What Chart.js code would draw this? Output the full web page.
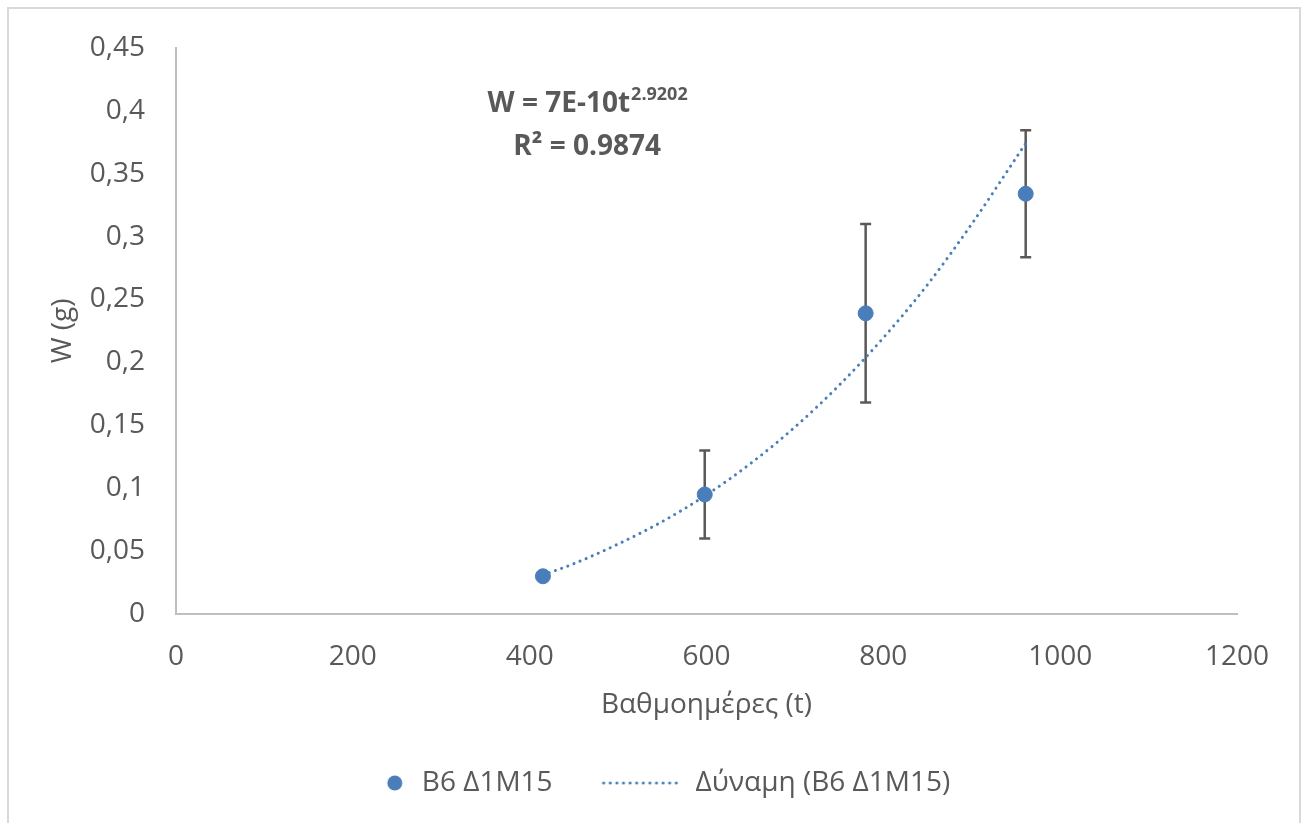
<!DOCTYPE html>
<html>
<head>
<meta charset="utf-8">
<script src="https://cdn.jsdelivr.net/npm/chart.js@4.4.1/dist/chart.umd.min.js"></script>
<style>
html,body{margin:0;padding:0;background:#ffffff;}
#wrap{width:1309px;height:823px;position:relative;}
</style>
</head>
<body>
<div id="wrap"><canvas id="c" width="1309" height="823"></canvas></div>
<script>
// ---- data ----
const seriesLabel = 'B6 Δ1M15';
const trendLabel = 'Δύναμη (B6 Δ1M15)';
const xTitle = 'Βαθμοημέρες (t)';
const yTitle = 'W (g)';
const tValues = [415, 598, 780, 961];
const wValues = [0.030, 0.095, 0.239, 0.334];
const wErrors = [0, 0.035, 0.071, 0.0505];
const trendT = [415, 450, 500, 550, 600, 650, 700, 750, 800, 850, 900, 961];
const trendW = [0.031, 0.040, 0.0556, 0.0735, 0.0947, 0.1197, 0.1486, 0.1818, 0.2195, 0.2618, 0.310, 0.374];
const xTickValues = [0, 200, 400, 600, 800, 1000, 1200];
const yTickValues = [0, 0.05, 0.1, 0.15, 0.2, 0.25, 0.3, 0.35, 0.4, 0.45];
const equationMain = 'W = 7E-10t';
const equationExp = '2.9202';
const equationR2 = 'R² = 0.9874';
const equationAnchor = [465, 0.405];   // data coords of the label centre
const r2Anchor = [465, 0.371];

// ---- styles ----
const FONT = '"Open Sans", "Noto Sans", sans-serif';
const FS = 28;
const TXT = '#595959';
const BLUE = '#4A7EBB';
const AXIS = '#BFBFBF';

function fmt(v){ return (Math.round(v*100)/100).toString().replace('.', ','); }

// legend glyph images
function circleImg(){
  const c = document.createElement('canvas'); c.width = 105; c.height = 18;
  const g = c.getContext('2d'); g.fillStyle = BLUE;
  g.beginPath(); g.arc(96, 9, 7.5, 0, Math.PI*2); g.fill();
  return c;
}
function dottedImg(){
  const c = document.createElement('canvas'); c.width = 119; c.height = 8;
  const g = c.getContext('2d'); g.strokeStyle = BLUE; g.lineWidth = 3; g.lineCap = 'round';
  g.setLineDash([0.1, 6.5]); g.beginPath(); g.moveTo(38, 4); g.lineTo(117, 4); g.stroke();
  return c;
}

const framePlugin = {
  id: 'frame',
  beforeDraw(chart){
    const ctx = chart.ctx; ctx.save();
    ctx.fillStyle = '#ffffff'; ctx.fillRect(0, 0, chart.width, chart.height);
    ctx.strokeStyle = '#D9D9D9'; ctx.lineWidth = 2;
    ctx.strokeRect(8, 8, 1292, 830);
    ctx.restore();
  }
};

const errorBarPlugin = {
  id: 'errorBars',
  beforeDatasetsDraw(chart){
    const ctx = chart.ctx, xs = chart.scales.x, ys = chart.scales.y;
    ctx.save(); ctx.strokeStyle = '#595959'; ctx.lineWidth = 2.5;
    tValues.forEach((t, i) => {
      const e = wErrors[i]; if (!e) return;
      const px = xs.getPixelForValue(t);
      const top = ys.getPixelForValue(wValues[i] + e);
      const bot = ys.getPixelForValue(wValues[i] - e);
      ctx.beginPath();
      ctx.moveTo(px, top); ctx.lineTo(px, bot);
      ctx.moveTo(px - 5.5, top); ctx.lineTo(px + 5.5, top);
      ctx.moveTo(px - 5.5, bot); ctx.lineTo(px + 5.5, bot);
      ctx.stroke();
    });
    ctx.restore();
  }
};

const equationPlugin = {
  id: 'equation',
  afterDraw(chart){
    const ctx = chart.ctx, xs = chart.scales.x, ys = chart.scales.y;
    ctx.save(); ctx.fillStyle = TXT; ctx.textBaseline = 'middle';
    const big = 'bold 28px ' + FONT, small = 'bold 18px ' + FONT;
    ctx.font = big; const w1 = ctx.measureText(equationMain).width;
    ctx.font = small; const w2 = ctx.measureText(equationExp).width;
    const cx = xs.getPixelForValue(equationAnchor[0]);
    const cy = ys.getPixelForValue(equationAnchor[1]);
    let x = cx - (w1 + w2)/2;
    ctx.textAlign = 'left';
    ctx.font = big; ctx.fillText(equationMain, x, cy);
    ctx.font = small; ctx.fillText(equationExp, x + w1 + 1, cy - 10);
    ctx.font = big; ctx.textAlign = 'center';
    ctx.fillText(equationR2, xs.getPixelForValue(r2Anchor[0]), ys.getPixelForValue(r2Anchor[1]));
    ctx.restore();
  }
};

const cImg = circleImg(), dImg = dottedImg();

new Chart(document.getElementById('c'), {
  type: 'scatter',
  data: {
    datasets: [
      {
        label: seriesLabel,
        data: tValues.map((t, i) => ({x: t, y: wValues[i]})),
        backgroundColor: BLUE, borderColor: BLUE,
        pointRadius: 7.5, pointHoverRadius: 7.5, showLine: false
      },
      {
        type: 'line',
        label: trendLabel,
        data: trendT.map((t, i) => ({x: t, y: trendW[i]})),
        borderColor: BLUE, borderWidth: 3, borderDash: [0.1, 6.5], borderCapStyle: 'round',
        pointRadius: 0, fill: false, cubicInterpolationMode: 'monotone'
      }
    ]
  },
  options: {
    responsive: false, animation: false,
    layout: { padding: { top: 43, left: 8, right: 72, bottom: 16 } },
    plugins: {
      tooltip: { enabled: false },
      legend: {
        position: 'bottom',
        labels: {
          usePointStyle: true, pointStyleWidth: 113, padding: 16,
          font: { family: FONT, size: FS }, color: TXT,
          generateLabels(chart){
            return [
              { text: seriesLabel, fontColor: TXT, pointStyle: cImg, datasetIndex: 0, hidden: false, lineWidth: 0, fillStyle: BLUE, strokeStyle: BLUE },
              { text: trendLabel, fontColor: TXT, pointStyle: dImg, datasetIndex: 1, hidden: false, lineWidth: 0, fillStyle: BLUE, strokeStyle: BLUE }
            ];
          }
        }
      }
    },
    scales: {
      x: {
        type: 'linear', min: 0, max: 1200,
        afterBuildTicks(s){ s.ticks = xTickValues.map(v => ({value: v})); },
        afterFit(s){ s.height = 139; },
        grid: { display: false, drawTicks: false },
        border: { display: true, color: AXIS, width: 2 },
        ticks: { padding: 26, color: TXT, font: { family: FONT, size: FS }, maxRotation: 0, callback: v => fmt(v) },
        title: { display: true, text: xTitle, color: TXT, font: { family: FONT, size: FS }, padding: { top: 0, bottom: 31 } }
      },
      y: {
        type: 'linear', min: 0, max: 0.45,
        afterBuildTicks(s){ s.ticks = yTickValues.map(v => ({value: v})); },
        afterFit(s){ s.width = 168; },
        grid: { display: false, drawTicks: false },
        border: { display: true, color: AXIS, width: 2 },
        ticks: { padding: 31, color: TXT, font: { family: FONT, size: FS }, callback: v => fmt(v) },
        title: { display: true, text: yTitle, color: TXT, font: { family: FONT, size: FS }, padding: { top: 38, bottom: 0 } }
      }
    }
  },
  plugins: [framePlugin, errorBarPlugin, equationPlugin]
});
</script>
</body>
</html>
